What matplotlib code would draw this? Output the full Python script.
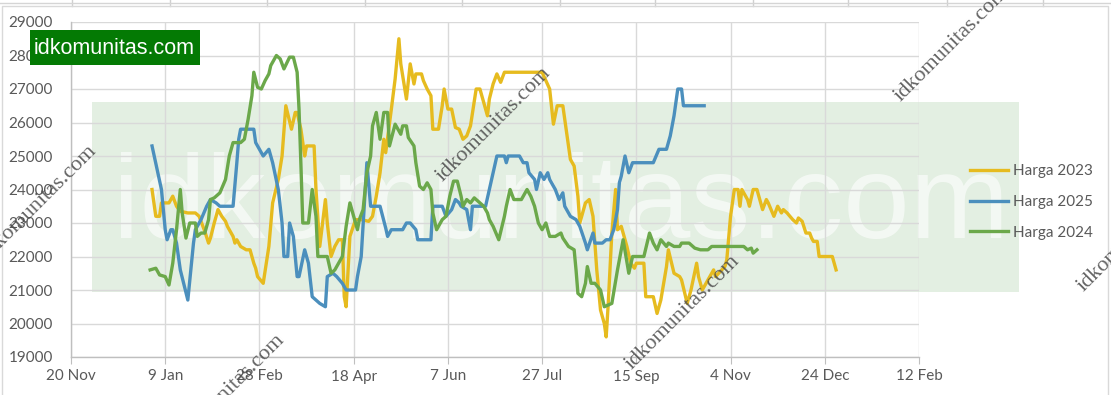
import numpy as np
import matplotlib
matplotlib.use("Agg")
import matplotlib.pyplot as plt
from matplotlib.patches import Rectangle
from matplotlib.lines import Line2D
import datetime as dt

# ---------------- data (day offset from 1 Jan, price) ----------------
days_2023 = [1, 3, 5, 6, 10, 12, 14, 16, 20, 24, 26, 29, 31, 32, 34, 36, 38, 40, 41, 44, 45, 46, 48, 51, 53,
             55, 56, 57, 60, 63, 65, 68, 70, 72, 75, 77, 78, 80, 82, 83, 87, 88, 90, 93, 94, 96, 98, 100, 102,
             103, 104, 106, 109, 112, 116, 118, 120, 122, 124, 125, 128, 130, 132, 133, 136, 138, 140, 141, 144,
             145, 147, 149, 150, 153, 155, 156, 158, 160, 162, 164, 166, 168, 170, 173, 175, 179, 180, 182, 184,
             186, 188, 208, 210, 212, 214, 216, 219, 221, 223, 225, 227, 228, 231, 233, 235, 237, 239, 241, 242,
             243, 245, 247, 248, 250, 251, 253, 255, 257, 258, 262, 263, 267, 269, 271, 274, 275, 278, 281, 282,
             285, 287, 290, 291, 293, 296, 299, 300, 305, 306, 308, 310, 312, 313, 314, 317, 318, 320, 322, 325,
             327, 328, 331, 333, 335, 336, 338, 341, 343, 344, 346, 348, 350, 351, 352, 354, 355, 362, 364]
harga_2023 = [24000, 23200, 23200, 23600, 23600, 23800, 23500, 23350, 23300, 23300, 23200, 22750, 22400, 22550,
              23000, 23400, 23200, 23050, 22900, 22600, 22400, 22500, 22300, 22200, 22200, 21800, 21650, 21400,
              21200, 22300, 23600, 24300, 25000, 26500, 25800, 26300, 26300, 25800, 25000, 25300, 25300, 24000,
              22300, 23700, 23000, 22000, 22300, 22500, 22500, 20800, 20500, 22600, 23100, 23100, 23050, 23200,
              23800, 24500, 25500, 25100, 26400, 27300, 28500, 27750, 26700, 27750, 27150, 27450, 27450, 27250,
              27000, 26800, 25800, 25800, 26500, 27000, 26400, 26400, 25850, 25800, 25500, 25600, 25900, 27000,
              27000, 26200, 26700, 27150, 27450, 27200, 27500, 27500, 27250, 27000, 25950, 26500, 26500, 25700,
              24900, 24700, 23800, 23000, 23600, 23700, 23200, 21600, 20400, 20000, 19600, 20500, 22700, 24000,
              22800, 22900, 22700, 22300, 21800, 21650, 21800, 21800, 20800, 20800, 20300, 20700, 21700, 22200,
              21500, 21400, 21300, 20600, 21000, 21800, 21400, 21000, 21300, 21600, 21400, 21700, 21900, 23200,
              24000, 24000, 23500, 24000, 23700, 23500, 24000, 24000, 23400, 23700, 23600, 23200, 23500, 23300,
              23400, 23300, 23100, 23000, 23150, 23050, 22700, 22700, 22550, 22450, 22450, 22000, 22000, 21600]

days_2025 = [1, 6, 8, 9, 11, 12, 14, 16, 20, 23, 24, 27, 30, 32, 35, 37, 42, 44, 46, 47, 48, 55, 56, 58, 60,
             63, 65, 68, 70, 71, 73, 74, 76, 78, 79, 82, 84, 86, 90, 93, 94, 97, 99, 102, 104, 109, 110, 112,
             115, 117, 118, 122, 125, 126, 128, 134, 136, 138, 141, 142, 149, 150, 155, 157, 160, 162, 164, 165,
             168, 170, 171, 178, 180, 184, 188, 189, 190, 196, 198, 200, 201, 204, 205, 207, 209, 211, 212, 215,
             217, 219, 220, 223, 226, 228, 231, 232, 235, 236, 240, 242, 244, 246, 248, 249, 250, 252, 254, 256,
             267, 270, 274, 276, 278, 280, 282, 283, 294]
harga_2025 = [25300, 24000, 22800, 22500, 22800, 22800, 22400, 21600, 20700, 22400, 22800, 23100, 23500, 23700,
              23600, 23500, 23500, 23500, 24800, 25500, 25800, 25800, 25400, 25200, 25000, 25200, 24800, 24000,
              23000, 22000, 22000, 23000, 22600, 21400, 21400, 22200, 21800, 20800, 20600, 20500, 21400, 21500,
              21400, 21200, 21000, 21000, 21400, 22000, 24800, 23500, 23500, 23500, 22850, 22600, 22800, 22800,
              23000, 23000, 22800, 22500, 22500, 23500, 23500, 23200, 23400, 23700, 23600, 23500, 23400, 22800,
              23500, 23500, 24000, 25000, 25000, 24800, 25000, 25000, 24800, 24800, 24500, 24300, 24000, 24500,
              24300, 24500, 24300, 24000, 23700, 23900, 23500, 23200, 23100, 22900, 22400, 22200, 22700, 22400,
              22400, 22500, 22500, 22800, 23400, 24200, 24400, 25000, 24500, 24800, 24800, 25200, 25200, 25600,
              26200, 27000, 27000, 26500, 26500]

days_2024 = [0, 3, 5, 8, 10, 12, 14, 16, 17, 19, 21, 24, 25, 27, 29, 31, 32, 34, 37, 40, 42, 44, 48, 50, 52,
             54, 55, 57, 59, 61, 63, 64, 67, 69, 71, 74, 76, 78, 79, 80, 81, 84, 86, 88, 89, 94, 96, 98, 101,
             102, 104, 106, 108, 110, 111, 113, 115, 117, 118, 120, 122, 124, 126, 127, 130, 133, 134, 136, 137,
             140, 141, 143, 145, 147, 149, 150, 152, 155, 157, 159, 161, 163, 165, 166, 168, 170, 172, 175, 177,
             179, 180, 182, 185, 188, 189, 191, 193, 197, 200, 202, 204, 206, 208, 210, 212, 215, 218, 219, 222,
             225, 226, 227, 229, 231, 232, 234, 236, 239, 241, 245, 248, 251, 254, 256, 262, 265, 267, 269, 271,
             274, 275, 278, 281, 282, 286, 289, 292, 296, 298, 315, 317, 319, 320, 322]
harga_2024 = [21600, 21650, 21450, 21400, 21150, 21800, 22800, 24000, 23300, 22550, 23000, 23000, 22600, 22700,
              22700, 23100, 23700, 23750, 23900, 24300, 25000, 25400, 25400, 25500, 26100, 26800, 27500, 27050,
              27000, 27250, 27450, 27700, 28000, 27900, 27600, 27950, 27950, 27500, 26400, 24750, 23000, 23000,
              24000, 23200, 22000, 22000, 21500, 21600, 21900, 22000, 22900, 23600, 23200, 22800, 23100, 23400,
              24500, 25000, 25900, 26300, 25500, 26300, 26300, 25300, 25950, 25650, 25900, 25900, 25550, 25300,
              24800, 24100, 24000, 24200, 24000, 23300, 22800, 23100, 23200, 23800, 24250, 24250, 23800, 23500,
              23700, 23600, 23750, 23600, 23500, 23300, 23100, 22900, 22500, 23200, 23500, 24000, 23700, 23700,
              24000, 23800, 23500, 23000, 22800, 23000, 22600, 22600, 22700, 22550, 22300, 22200, 21600, 20900,
              20800, 21200, 21700, 21200, 21200, 21000, 20500, 20600, 21600, 22500, 21500, 22000, 22000, 22700,
              22400, 22200, 22500, 22300, 22400, 22300, 22300, 22400, 22400, 22250, 22200, 22200, 22300, 22300,
              22200, 22250, 22100, 22200]

series_names = ["Harga 2023", "Harga 2025", "Harga 2024"]
series_colors = ["#E6BB1F", "#4B8FBD", "#6BA84A"]
y_ticks = list(range(19000, 29001, 1000))
x_start = "2023-11-20"
x_end = "2025-02-12"
tick_step_days = 50
year_base = "2024-01-01"
watermark = "idkomunitas.com"

# ---------------- figure ----------------
W, H = 1111, 395
fig = plt.figure(figsize=(W / 100, H / 100), dpi=100)
fig.patch.set_facecolor("white")

def fx(px):
    return px / W

def fy(py):
    return 1 - py / H

# light green watermark panel (behind the plot)
fig.patches.append(Rectangle((fx(92), fy(292)), fx(1019) - fx(92), fy(102) - fy(292),
                             transform=fig.transFigure, facecolor="#E3EFE2", edgecolor="none", zorder=-3))
fig.text(fx(113), fy(238), watermark, fontsize=86, family="Liberation Sans", color="white",
         alpha=0.6, ha="left", va="baseline", zorder=-2)

# spreadsheet grid peeking at the top and chart border
for xp in [72, 170, 267, 365, 462, 560, 655, 753, 848, 947, 1043]:
    fig.add_artist(Line2D([fx(xp), fx(xp)], [fy(0), fy(6)], transform=fig.transFigure,
                          color="#D0D0D0", lw=1))
fig.add_artist(Line2D([0, 1], [fy(2.5), fy(2.5)], transform=fig.transFigure, color="#D5D5D5", lw=1))
fig.add_artist(Line2D([fx(1.5), fx(1.5), fx(1108), fx(1108)], [0, fy(6), fy(6), 0],
                      transform=fig.transFigure, color="#D9D9D9", lw=1))

ax = fig.add_axes([fx(71), fy(357), fx(919) - fx(71), fy(22) - fy(357)])
ax.set_facecolor("none")

base = np.datetime64(year_base)
all_days = [days_2023, days_2025, days_2024]
all_vals = [harga_2023, harga_2025, harga_2024]
for name, col, d, v in zip(series_names, series_colors, all_days, all_vals):
    dates = (base + np.array(d, dtype="timedelta64[D]")).astype("datetime64[D]").astype(object)
    ax.plot(dates, v, color=col, lw=2.4, label=name, solid_joinstyle="round", zorder=3)

x0 = dt.date.fromisoformat(x_start)
x1 = dt.date.fromisoformat(x_end)
ax.set_xlim(x0, x1)
ax.set_ylim(y_ticks[0], y_ticks[-1])
ax.set_yticks(y_ticks)
xt = [x0 + dt.timedelta(days=k) for k in range(0, (x1 - x0).days + 1, tick_step_days)]
ax.set_xticks(xt)
ax.set_xticklabels([f"{d.day} {d.strftime('%b')}" for d in xt])

ax.grid(True, color="#D9D9D9", lw=1)
ax.set_axisbelow(True)
for s in ["top", "right"]:
    ax.spines[s].set_visible(False)
for s in ["left", "bottom"]:
    ax.spines[s].set_color("#BFBFBF")
    ax.spines[s].set_linewidth(1)
ax.tick_params(axis="x", direction="out", length=5, color="#BFBFBF", pad=4,
               labelsize=11, labelcolor="#595959")
ax.tick_params(axis="y", length=0, pad=13, labelsize=11, labelcolor="#595959")
for lab in ax.get_xticklabels() + ax.get_yticklabels():
    lab.set_family("Lato")

handles, labels = ax.get_legend_handles_labels()
leg = fig.legend(handles, labels, loc="center left", bbox_to_anchor=(fx(956), fy(202)),
                 frameon=False, handlelength=2.5, handletextpad=0.3, labelspacing=1.1,
                 prop={"family": "Lato", "size": 11})
for t in leg.get_texts():
    t.set_color("#595959")

# diagonal watermarks
for cx, cy in [(40, 203), (228, 392), (494, 125), (683, 313), (952, 45), (1135, 235)]:
    fig.text(fx(cx), fy(cy), watermark, rotation=45, rotation_mode="anchor", ha="center", va="center",
             fontsize=16, family="Liberation Serif", color="#4A4A4A", alpha=0.85, zorder=10)

# green label box
fig.patches.append(Rectangle((fx(30), fy(65)), fx(200) - fx(30), fy(30) - fy(65),
                             transform=fig.transFigure, facecolor="#047A04", edgecolor="none", zorder=11))
fig.text(fx(34), fy(48), watermark, fontsize=15.5, family="Liberation Sans", color="white",
         ha="left", va="center", zorder=12)

fig.savefig("out.png", dpi=100)
